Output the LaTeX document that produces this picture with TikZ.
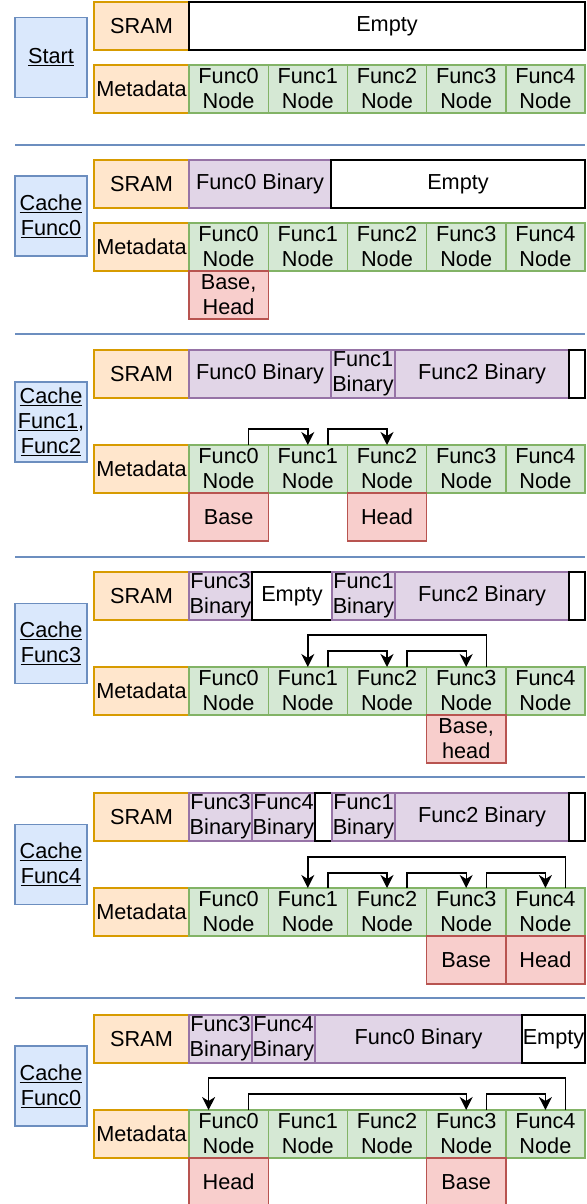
\documentclass[tikz,border=0pt]{standalone}
\usepackage{fontspec}
\setmainfont{Liberation Sans}
\usetikzlibrary{arrows.meta, positioning}
\definecolor{stepfill}{HTML}{DAE8FC}
\definecolor{stepline}{HTML}{6C8EBF}
\definecolor{tagfill}{HTML}{FFE6CC}
\definecolor{tagline}{HTML}{D79B00}
\definecolor{binfill}{HTML}{E1D5E7}
\definecolor{binline}{HTML}{9673A6}
\definecolor{nodefill}{HTML}{D5E8D4}
\definecolor{nodeline}{HTML}{82B366}
\definecolor{ptrfill}{HTML}{F8CECC}
\definecolor{ptrline}{HTML}{B85450}
\tikzset{%
	cell/.style={
		rectangle,
		draw,
		line width=1.4pt,
		inner sep=0pt,
		outer sep=0pt,
		minimum height=48pt,
		align=center,
		font=\fontsize{21.7}{25}\selectfont
	},
	memtag/.style={cell, draw=tagline, fill=tagfill, minimum width=95pt, anchor=north west},
	binary/.style={cell, draw=binline, fill=binfill},
	free/.style={cell, draw=black, fill=white},
	fnode/.style={cell, draw=nodeline, fill=nodefill, minimum width=79.2pt, anchor=north west},
	pointer/.style={cell, draw=ptrline, fill=ptrfill, minimum width=79.2pt},
	stepbox/.style={cell, draw=stepline, fill=stepfill, minimum width=72pt, minimum height=80pt},
	link/.style={draw=black, line width=1.4pt, -{Stealth[length=13pt, width=13pt, inset=4pt]}},
	separator/.style={draw=stepline, line width=1.4pt},
}

\begin{document}
\begin{tikzpicture}[x=1pt, y=-1pt]
	\useasboundingbox (0,0) rectangle (586,1204);

	% Start
	\node[stepbox] (s1step) at (51,57.5) {\underline{Start}};
	\node[memtag] (s1sram) at (94,2) {SRAM};
	\node[free, minimum width=396pt, right=0pt of s1sram] (s1b0) {Empty};
	\node[memtag] (s1meta) at (94,65) {Metadata};
	\foreach \i in {0,...,4}
		\node[fnode] (s1f\i) at ({189+79.2*\i},65) {Func\i\\Node};
	\draw[separator] (15,145) -- (585,145);

	% Cache Func0
	\node[stepbox] (s2step) at (51,216) {\underline{Cache}\\\underline{Func0}};
	\node[memtag] (s2sram) at (94,160) {SRAM};
	\node[binary, minimum width=142pt, right=0pt of s2sram] (s2b0) {Func0 Binary};
	\node[free, minimum width=254pt, right=0pt of s2b0] (s2b1) {Empty};
	\node[memtag] (s2meta) at (94,223) {Metadata};
	\foreach \i in {0,...,4}
		\node[fnode] (s2f\i) at ({189+79.2*\i},223) {Func\i\\Node};
	\node[pointer, below=0pt of s2f0] (s2base) {Base,\\Head};
	\draw[separator] (15,334) -- (585,334);

	% Cache Func1, Func2
	\node[stepbox] (s3step) at (51,422) {\underline{Cache}\\\underline{Func1},\\\underline{Func2}};
	\node[memtag] (s3sram) at (94,350) {SRAM};
	\node[binary, minimum width=142pt, right=0pt of s3sram] (s3b0) {Func0 Binary};
	\node[binary, minimum width=64pt, right=0pt of s3b0] (s3b1) {Func1\\Binary};
	\node[binary, minimum width=174pt, right=0pt of s3b1] (s3b2) {Func2 Binary};
	\node[free, minimum width=16pt, right=0pt of s3b2] (s3b3) {};
	\node[memtag] (s3meta) at (94,445) {Metadata};
	\foreach \i in {0,...,4}
		\node[fnode] (s3f\i) at ({189+79.2*\i},445) {Func\i\\Node};
	\node[pointer, below=0pt of s3f0] (s3base) {Base};
	\node[pointer, below=0pt of s3f2] (s3head) {Head};
	\draw[link] ([xshift=20pt]s3f0.north) -- ++(0,-16) -| (s3f1.north);
	\draw[link] ([xshift=20pt]s3f1.north) -- ++(0,-16) -| (s3f2.north);
	\draw[separator] (15,557) -- (585,557);

	% Cache Func3
	\node[stepbox] (s4step) at (51,643.5) {\underline{Cache}\\\underline{Func3}};
	\node[memtag] (s4sram) at (94,572) {SRAM};
	\node[binary, minimum width=63pt, right=0pt of s4sram] (s4b0) {Func3\\Binary};
	\node[free, minimum width=80pt, right=0pt of s4b0] (s4b1) {Empty};
	\node[binary, minimum width=63pt, right=0pt of s4b1] (s4b2) {Func1\\Binary};
	\node[binary, minimum width=174pt, right=0pt of s4b2] (s4b3) {Func2 Binary};
	\node[free, minimum width=16pt, right=0pt of s4b3] (s4b4) {};
	\node[memtag] (s4meta) at (94,667) {Metadata};
	\foreach \i in {0,...,4}
		\node[fnode] (s4f\i) at ({189+79.2*\i},667) {Func\i\\Node};
	\node[pointer, below=0pt of s4f3] (s4base) {Base,\\head};
	\draw[link] ([xshift=20pt]s4f3.north) -- ++(0,-32) -| (s4f1.north);
	\draw[link] ([xshift=20pt]s4f1.north) -- ++(0,-16) -| (s4f2.north);
	\draw[link] ([xshift=20pt]s4f2.north) -- ++(0,-16) -| (s4f3.north);
	\draw[separator] (15,777) -- (585,777);

	% Cache Func4
	\node[stepbox] (s5step) at (51,864.5) {\underline{Cache}\\\underline{Func4}};
	\node[memtag] (s5sram) at (94,793) {SRAM};
	\node[binary, minimum width=63pt, right=0pt of s5sram] (s5b0) {Func3\\Binary};
	\node[binary, minimum width=63pt, right=0pt of s5b0] (s5b1) {Func4\\Binary};
	\node[free, minimum width=17pt, right=0pt of s5b1] (s5b2) {};
	\node[binary, minimum width=63pt, right=0pt of s5b2] (s5b3) {Func1\\Binary};
	\node[binary, minimum width=174pt, right=0pt of s5b3] (s5b4) {Func2 Binary};
	\node[free, minimum width=16pt, right=0pt of s5b4] (s5b5) {};
	\node[memtag] (s5meta) at (94,888) {Metadata};
	\foreach \i in {0,...,4}
		\node[fnode] (s5f\i) at ({189+79.2*\i},888) {Func\i\\Node};
	\node[pointer, below=0pt of s5f3] (s5base) {Base};
	\node[pointer, below=0pt of s5f4] (s5head) {Head};
	\draw[link] ([xshift=20pt]s5f4.north) -- ++(0,-31) -| (s5f1.north);
	\draw[link] ([xshift=20pt]s5f1.north) -- ++(0,-15) -| (s5f2.north);
	\draw[link] ([xshift=20pt]s5f2.north) -- ++(0,-15) -| (s5f3.north);
	\draw[link] ([xshift=20pt]s5f3.north) -- ++(0,-15) -| (s5f4.north);
	\draw[separator] (15,998) -- (585,998);

	% Cache Func0 again
	\node[stepbox] (s6step) at (51,1086) {\underline{Cache}\\\underline{Func0}};
	\node[memtag] (s6sram) at (94,1015) {SRAM};
	\node[binary, minimum width=63pt, right=0pt of s6sram] (s6b0) {Func3\\Binary};
	\node[binary, minimum width=63pt, right=0pt of s6b0] (s6b1) {Func4\\Binary};
	\node[binary, minimum width=207pt, right=0pt of s6b1] (s6b2) {Func0 Binary};
	\node[free, minimum width=63pt, right=0pt of s6b2] (s6b3) {Empty};
	\node[memtag] (s6meta) at (94,1110) {Metadata};
	\foreach \i in {0,...,4}
		\node[fnode] (s6f\i) at ({189+79.2*\i},1110) {Func\i\\Node};
	\node[pointer, below=0pt of s6f0] (s6head) {Head};
	\node[pointer, below=0pt of s6f3] (s6base) {Base};
	\draw[link] ([xshift=20pt]s6f4.north) -- ++(0,-32) -| ([xshift=-20pt]s6f0.north);
	\draw[link] ([xshift=20pt]s6f0.north) -- ++(0,-16) -| (s6f3.north);
	\draw[link] ([xshift=20pt]s6f3.north) -- ++(0,-16) -| (s6f4.north);
\end{tikzpicture}
\end{document}
